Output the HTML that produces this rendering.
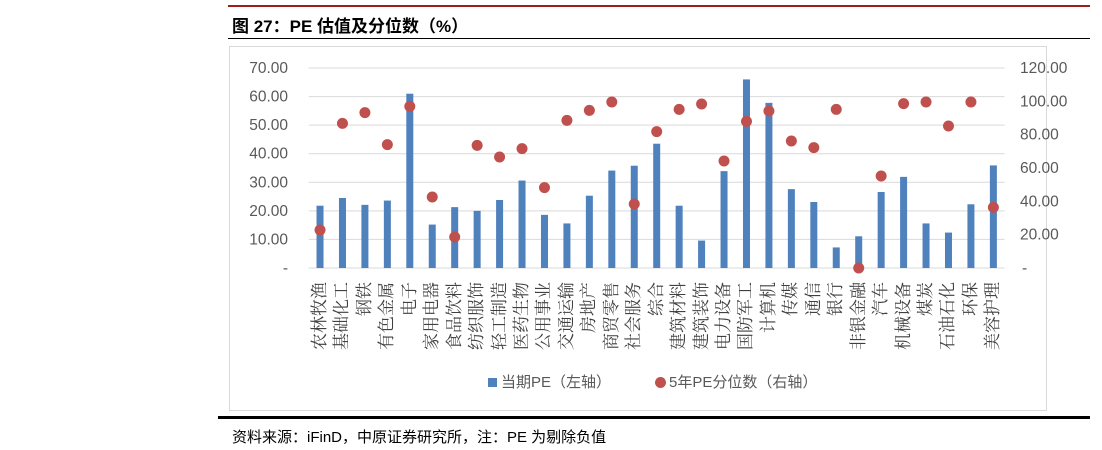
<!DOCTYPE html>
<html><head><meta charset="utf-8"><style>
body{margin:0;width:1102px;height:450px;background:#fff;position:relative;overflow:hidden;font-family:"Liberation Sans","Noto Sans CJK SC",sans-serif}
.abs{position:absolute}
.xl{position:absolute;white-space:nowrap;text-align:right;font-family:"Liberation Serif","Noto Serif CJK SC",serif;font-size:17px;line-height:18px;color:#404040;top:362px;height:18px;width:80px;transform-origin:0 0;transform:rotate(-90deg)}
</style></head><body>
<div class="abs" style="left:228px;top:5px;width:862px;height:2px;background:#a01c1c"></div>
<div class="abs" style="left:232px;top:12px;font-size:17px;font-weight:bold;color:#000;font-family:'Liberation Sans','Noto Sans CJK SC',sans-serif">图 27：PE 估值及分位数（%）</div>
<div class="abs" style="left:228px;top:38px;width:862px;height:1px;background:#000"></div>
<div class="abs" style="left:229px;top:46px;width:816px;height:363px;border:1px solid #d9d9d9"></div>
<svg class="abs" style="left:0;top:0" width="1102" height="450" id="chart"></svg>
<div id="labels"></div>
<div class="abs" style="left:488px;top:371px;font-size:15px;color:#595959"><span style="display:inline-block;width:9px;height:9px;background:#4f81bd;margin-right:4px"></span>当期PE（左轴）</div>
<div class="abs" style="left:655px;top:371px;font-size:15px;color:#595959"><span style="display:inline-block;width:11px;height:11px;border-radius:50%;background:#c0504d;margin-right:3px;vertical-align:-1px"></span>5年PE分位数（右轴）</div>
<div class="abs" style="left:218px;top:416px;width:872px;height:3px;background:#000"></div>
<div class="abs" style="left:232px;top:426px;font-size:15px;color:#000">资料来源：iFinD，中原证券研究所，注：PE 为剔除负值</div>
<script>
const categories=["农林牧渔","基础化工","钢铁","有色金属","电子","家用电器","食品饮料","纺织服饰","轻工制造","医药生物","公用事业","交通运输","房地产","商贸零售","社会服务","综合","建筑材料","建筑装饰","电力设备","国防军工","计算机","传媒","通信","银行","非银金融","汽车","机械设备","煤炭","石油石化","环保","美容护理"];
const peValues=[21.8,24.5,22.1,23.6,61,15.2,21.3,20,23.8,30.6,18.6,15.6,25.3,34.1,35.8,43.5,21.8,9.6,33.9,66,57.8,27.6,23.1,7.2,11.1,26.6,31.9,15.6,12.4,22.3,35.9];
const pctValues=[22.8,86.8,93.2,74,97,42.6,18.6,73.6,66.6,71.6,48.2,88.6,94.6,99.6,38.4,81.8,95.2,98.4,64.2,88,94.2,76.2,72.2,95.2,0,55.2,98.6,99.6,85.2,99.6,36.4];
const leftTicks=[0,10,20,30,40,50,60,70];
const rightTicks=[0,20,40,60,80,100,120];
const NS="http://www.w3.org/2000/svg";
const svg=document.getElementById('chart');
const X0=308.8,X1=1004.6,Y0=268,Y1=68;
const step=(X1-X0)/categories.length;
const xc=i=>X0+step*(i+0.5);
const yL=v=>Y0-(v/70)*(Y0-Y1);
const yR=v=>Y0-(v/120)*(Y0-Y1);
function mk(t,a){const e=document.createElementNS(NS,t);for(const k in a)e.setAttribute(k,a[k]);svg.appendChild(e);return e;}
leftTicks.forEach(t=>{
  const g=mk('line',{x1:X0,x2:X1,y1:yL(t),y2:yL(t),stroke:'#d9d9d9','stroke-width':1});
  
  
  const tx=mk('text',{x:288,y:yL(t)+5,'text-anchor':'end','font-size':15.5,fill:'#595959','font-family':'Liberation Sans, sans-serif'});
  tx.textContent=t===0?'-':t.toFixed(2);
  
  
});
rightTicks.forEach(t=>{
  const tx=mk('text',{x:t===0?1022:1020,y:yR(t)+5,'text-anchor':'start','font-size':15.5,fill:'#595959','font-family':'Liberation Sans, sans-serif'});
  tx.textContent=t===0?'-':t.toFixed(2);
  
  
});
peValues.forEach((v,i)=>{
  const r=mk('rect',{x:xc(i)-3.5,y:yL(v),width:7,height:Y0-yL(v),fill:'#4f81bd'});
  
  
});
pctValues.forEach((v,i)=>{
  const c=mk('circle',{cx:xc(i),cy:yR(v),r:5.5,fill:'#c0504d'});
  
  
});
const lab=document.getElementById('labels');
categories.forEach((c,i)=>{
  const d=document.createElement('div');
  d.className='xl';d.style.left=(xc(i)-9)+'px';d.textContent=c;
  
  
  lab.appendChild(d);
});
</script>
</body></html>
